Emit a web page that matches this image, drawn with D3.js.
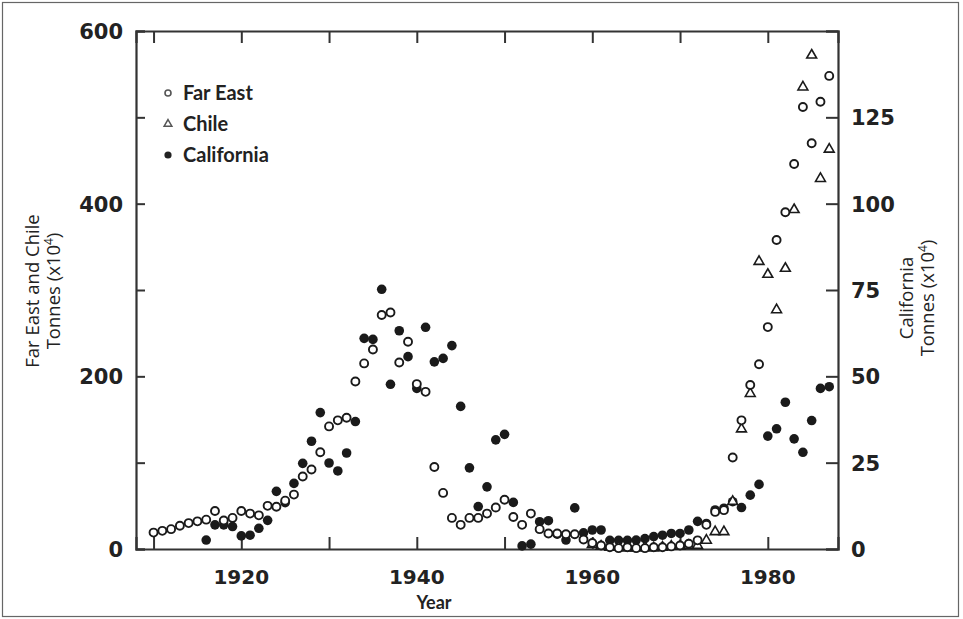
<!DOCTYPE html>
<html><head><meta charset="utf-8">
<script src="https://cdn.jsdelivr.net/npm/d3@7"></script>
<style>
html,body{margin:0;padding:0;background:#fff;}
svg{display:block;}
</style></head>
<body>
<svg id="chart" width="963" height="619"></svg>
<script>
// ---- data ----
const farEastYears = d3.range(1910, 1988);
const farEastValues = [19,21,23,27,30,32,34,44,33,36,44,41,39,50,49,56,63,84,92,112,
  142,149,152,194,215,231,271,274,216,240,191,182,95,65,36,28,36,36,41,48,
  57,37,28,41,23,18,18,17,17,11,7,4,2,1,2,1,1,2,2,3,
  4,6,10,28,43,45,106,149,190,214,257,358,390,446,512,470,518,548];
const chileYears = d3.range(1960, 1988);
const chileValues = [5,3,2,2,1,1,2,1,2,3,3,4,4,10,20,20,55,139,180,333,318,277,325,393,535,572,429,463];
const californiaYears = d3.range(1916, 1988);
const californiaValues = [2.6,7,7,6.5,3.8,4,6,8.3,16.7,13.4,19,24.8,31.2,39.5,24.9,22.6,27.8,36.9,61,60.7,
  75.2,47.7,63.2,55.7,46.5,64.2,54.2,55.2,58.9,41.3,23.5,12.3,18,31.6,33.2,13.5,0.9,1.4,7.9,8.2,
  4.3,2.6,11.9,4.7,5.5,5.5,2.5,2.5,2.5,2.6,3,3.6,4,4.5,4.5,5.5,8,7.4,11.3,11.8,
  13.7,12,15.6,18.7,32.7,34.8,42.5,31.9,28,37.2,46.5,47];
const yearTicks = d3.range(1910, 1990, 10);
const yearLabels = [1920, 1940, 1960, 1980];
const leftTicks = d3.range(0, 700, 100);
const leftLabels = [0, 200, 400, 600];
const rightTicks = [0, 25, 50, 75, 100, 125, 150];
const rightLabels = [0, 25, 50, 75, 100, 125];
const legendItems = ["Far East", "Chile", "California"];

// ---- layout ----
const svg = d3.select("#chart");
const L = 136, R = 838, T = 31, B = 549;
const x = d3.scaleLinear().domain([1908, 1988]).range([L, R]);
const yL = d3.scaleLinear().domain([0, 600]).range([B, T]);
const yR = d3.scaleLinear().domain([0, 150]).range([B, T]);
const ink = "#1a1a1a", axisCol = "#333";

// outer frame
svg.append("rect").attr("x", 2.5).attr("y", 2.5).attr("width", 956).attr("height", 614)
  .attr("fill", "none").attr("stroke", "#666").attr("stroke-width", 1.2);

// axes with inner ticks
const gB = svg.append("g").attr("transform", `translate(0,${B})`)
  .call(d3.axisBottom(x).tickValues(yearTicks).tickSize(-12).tickFormat(""));
const gT = svg.append("g").attr("transform", `translate(0,${T})`)
  .call(d3.axisTop(x).tickValues(yearTicks).tickSize(-12).tickFormat(""));
const gL = svg.append("g").attr("transform", `translate(${L},0)`)
  .call(d3.axisLeft(yL).tickValues(leftTicks).tickSize(-9).tickFormat(""));
const gR = svg.append("g").attr("transform", `translate(${R},0)`)
  .call(d3.axisRight(yR).tickValues(rightTicks).tickSize(-12).tickFormat(""));
[gB, gT, gL, gR].forEach(g => {
  g.select(".domain").attr("stroke", axisCol).attr("stroke-width", 2.2);
  g.selectAll(".tick line").attr("stroke", axisCol).attr("stroke-width", 2);
});

// tick labels
const tickFont = "'DejaVu Sans', sans-serif";
svg.append("g").selectAll("text").data(yearLabels).join("text")
  .attr("x", d => x(d)).attr("y", 584).attr("text-anchor", "middle")
  .attr("font-family", tickFont).attr("font-weight", "bold").attr("font-size", 20)
  .attr("fill", "#222").text(d => d);
svg.append("g").selectAll("text").data(leftLabels).join("text")
  .attr("x", 123).attr("y", d => yL(d) + 8).attr("text-anchor", "end")
  .attr("font-family", tickFont).attr("font-weight", "bold").attr("font-size", 21)
  .attr("fill", "#222").text(d => d);
svg.append("g").selectAll("text").data(rightLabels).join("text")
  .attr("x", 851).attr("y", d => yR(d) + 8).attr("text-anchor", "start")
  .attr("font-family", tickFont).attr("font-weight", "bold").attr("font-size", 21)
  .attr("fill", "#222").text(d => d);

// axis titles
const titleFont = "'Open Sans', sans-serif";
function rotTitle(cx, cy, line1) {
  const g = svg.append("g").attr("transform", `translate(${cx},${cy}) rotate(-90)`);
  const t = g.append("text").attr("text-anchor", "middle")
    .attr("font-family", titleFont).attr("font-size", 18.5).attr("fill", "#222");
  t.append("tspan").attr("x", 0).attr("y", 0).text(line1);
  const t2 = g.append("text").attr("text-anchor", "middle")
    .attr("font-family", titleFont).attr("font-size", 18.5).attr("fill", "#222")
    .attr("x", 0).attr("y", 21);
  t2.append("tspan").text("Tonnes  (x10");
  t2.append("tspan").attr("font-size", 12).attr("dy", -7).text("4");
  t2.append("tspan").attr("dy", 7).text(")");
}
rotTitle(39, 291, "Far East and Chile");
rotTitle(913, 298, "California");

svg.append("text").attr("x", 434).attr("y", 609).attr("text-anchor", "middle")
  .attr("font-family", "Lato, sans-serif").attr("font-weight", "bold").attr("font-size", 18)
  .attr("fill", "#222").text("Year");

// ---- marks ----
const fe = farEastYears.map((d, i) => [d, farEastValues[i]]);
const ch = chileYears.map((d, i) => [d, chileValues[i]]);
const ca = californiaYears.map((d, i) => [d, californiaValues[i]]);

svg.append("g").selectAll("circle").data(ca).join("circle")
  .attr("cx", d => x(d[0])).attr("cy", d => yR(d[1])).attr("r", 4.8)
  .attr("fill", ink);
const tri = d3.symbol().type(d3.symbolTriangle).size(42);
svg.append("g").selectAll("path").data(ch).join("path")
  .attr("transform", d => `translate(${x(d[0])},${yL(d[1])})`).attr("d", tri)
  .attr("fill", "#fff").attr("stroke", ink).attr("stroke-width", 1.6);
svg.append("g").selectAll("circle").data(fe).join("circle")
  .attr("cx", d => x(d[0])).attr("cy", d => yL(d[1])).attr("r", 4)
  .attr("fill", "#fff").attr("stroke", ink).attr("stroke-width", 1.9);

// ---- legend ----
const lg = svg.append("g");
legendItems.forEach((name, i) => {
  const cy = 93 + i * 31;
  if (i === 0) lg.append("circle").attr("cx", 168).attr("cy", cy).attr("r", 3)
    .attr("fill", "#fff").attr("stroke", "#555").attr("stroke-width", 1.6);
  if (i === 1) lg.append("path").attr("transform", `translate(168,${cy})`)
    .attr("d", d3.symbol().type(d3.symbolTriangle).size(26))
    .attr("fill", "#fff").attr("stroke", "#555").attr("stroke-width", 1.5);
  if (i === 2) lg.append("circle").attr("cx", 168).attr("cy", cy).attr("r", 3.6).attr("fill", "#222");
  lg.append("text").attr("x", 183).attr("y", cy + 7)
    .attr("font-family", "Lato, sans-serif").attr("font-weight", "bold").attr("font-size", 20)
    .attr("fill", "#222").text(name);
});
</script>
</body></html>
